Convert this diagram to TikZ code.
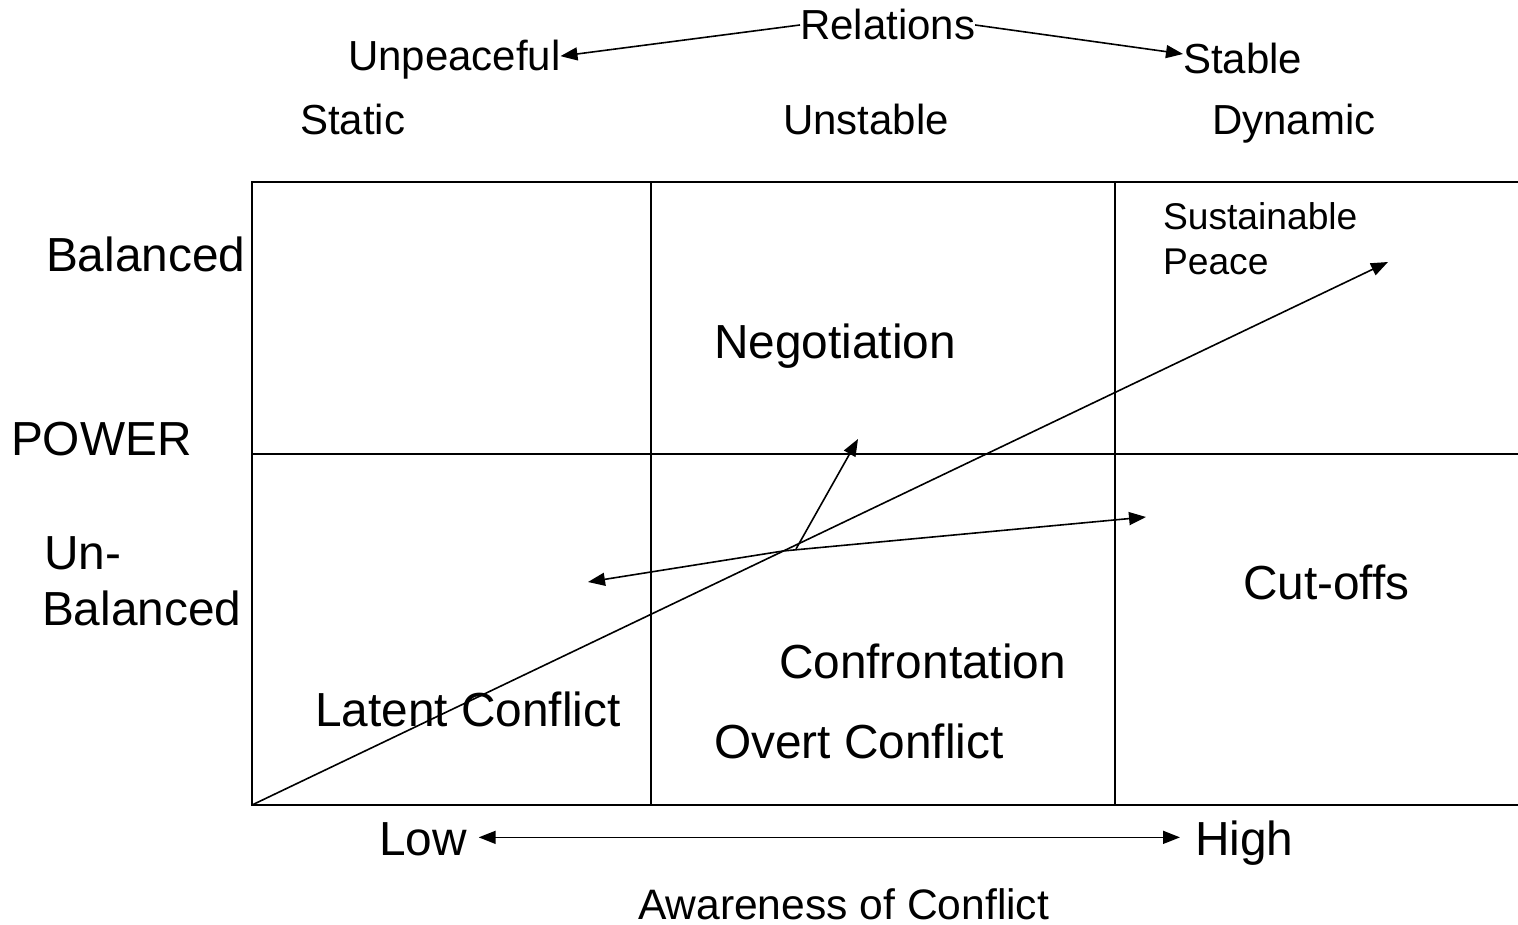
\documentclass[tikz,border=0pt]{standalone}
\usepackage{fontspec}
\setmainfont{Liberation Sans}
\usetikzlibrary{arrows.meta}
\begin{document}
\begin{tikzpicture}[x=1pt,y=-1pt,
  txt/.style={inner sep=0pt,outer sep=0pt,anchor=base west},
  big/.style={txt,font=\fontsize{47.8}{54}\selectfont},
  mid/.style={txt,font=\fontsize{42}{48}\selectfont},
  small/.style={txt,font=\fontsize{37.2}{44}\selectfont},
  axis/.style={txt,font=\fontsize{42.6}{48}\selectfont},
  grid/.style={line width=2pt,line cap=rect},
  arr/.style={line width=1.6pt,-{Triangle[length=17pt,width=13pt]}},
  darr/.style={line width=1.6pt,{Triangle[length=17pt,width=13pt]}-{Triangle[length=17pt,width=13pt]}}]
\useasboundingbox (0,0) rectangle (1518,925);

% matrix of cells
\draw[grid] (1518,182) -- (252,182) -- (252,805) -- (1518,805);
\draw[grid] (252,454) -- (1518,454);
\draw[grid] (651,182) -- (651,805);
\draw[grid] (1115,182) -- (1115,805);

% header labels
\node[mid] (rel) at (800,40) {Relations};
\node[mid] (unp) at (348,71) {Unpeaceful};
\node[mid] (stab) at (1183,74) {Stable};
\node[mid] (static) at (300,135) {Static};
\node[mid] (unst) at (783,135) {Unstable};
\node[mid] (dyn) at (1212,135) {Dynamic};
\draw[arr] (rel.west) -- ([yshift=4pt]unp.east);
\draw[arr] (rel.east) -- ([yshift=5pt]stab.west);

% power axis labels
\node[big] (bal) at (46,272) {Balanced};
\node[big] (power) at (11,455) {POWER};
\node[big] (un) at (44,569) {Un-};
\node[big] (unbal) at (42,625) {Balanced};

% cell labels
\node[small] (sus) at (1163,230) {Sustainable};
\node[small] (peace) at (1163,275) {Peace};
\node[big] (neg) at (714,359) {Negotiation};
\node[big] (cut) at (1243,599) {Cut-offs};
\node[big] (conf) at (779,678) {Confrontation};
\node[big] (lat) at (315,726) {Latent Conflict};
\node[big] (overt) at (714,758) {Overt Conflict};

% awareness axis
\node[big] (low) at (379,855) {Low};
\node[big] (high) at (1195,855) {High};
\node[axis] (aware) at (638,919) {Awareness of Conflict};
\draw[darr,shorten <=12pt,shorten >=15pt] ([yshift=15pt]low.mid east) -- ([yshift=15pt]high.mid west);

% trajectories
\coordinate (origin) at (252,805);
\coordinate (peaceEnd) at (1388,262);
\coordinate (cross) at (783,551);
\coordinate (fork) at (796,549);
\coordinate (negEnd) at (858,439);
\coordinate (leftEnd) at (588,582);
\coordinate (rightEnd) at (1146,517);
\draw[arr] (origin) -- (peaceEnd);
\draw[arr] (fork) -- (negEnd);
\draw[darr] (leftEnd) -- (cross) -- (rightEnd);
\end{tikzpicture}
\end{document}
